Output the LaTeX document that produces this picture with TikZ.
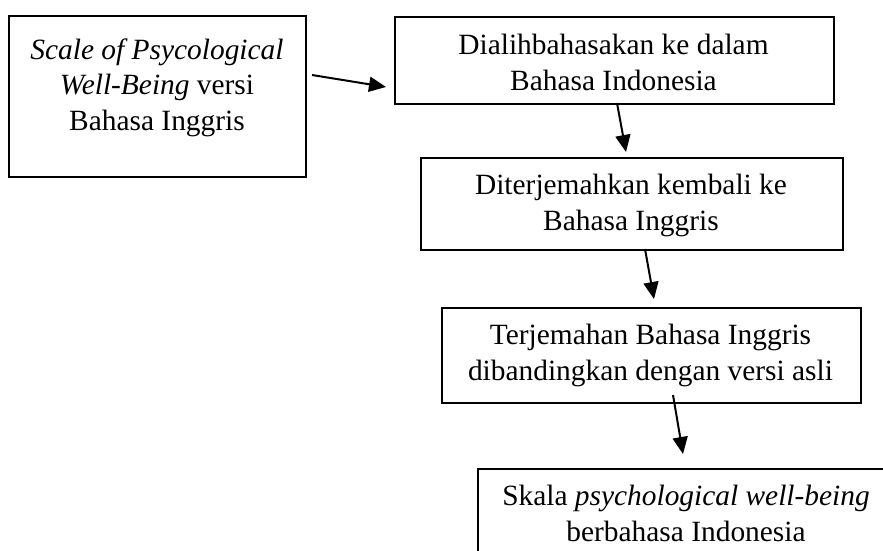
\documentclass[tikz,border=0pt]{standalone}
\usepackage{fontspec}
\setmainfont{Liberation Serif}
\usetikzlibrary{arrows.meta}
\begin{document}
\begin{tikzpicture}[x=1pt,y=-1pt,
  box/.style={draw, line width=2pt, inner sep=0pt, anchor=north west},
  txt/.style={align=center, font=\fontsize{29.4}{35.5}\selectfont, inner sep=0pt},
  arr/.style={line width=2pt, -{Triangle[length=17pt,width=15pt]}}]
\useasboundingbox (0,0) rectangle (883,550);
\clip (0,0) rectangle (883,550);
% boxes
\node[box, minimum width=297, minimum height=161] (b1) at (8,15) {};
\node[box, minimum width=439, minimum height=87] (b2) at (394,16) {};
\node[box, minimum width=422, minimum height=92] (b3) at (420,157) {};
\node[box, minimum width=419, minimum height=95] (b4) at (441,307) {};
\node[box, minimum width=418, minimum height=95] (b5) at (477,468) {};
% texts
\node[txt] (t1) at (157,87.7) {\textit{Scale of Psycological}\\\textit{Well-Being} versi\\Bahasa Inggris};
\node[txt] (t2) at (613.5,62.5) {Dialihbahasakan ke dalam\\Bahasa Indonesia};
\node[txt] (t3) at (631,205.7) {Diterjemahkan kembali ke\\Bahasa Inggris};
\node[txt] (t4) at (650.5,355.7) {Terjemahan Bahasa Inggris\\dibandingkan dengan versi asli};
\node[txt] (t5) at (686,513.5) {Skala \textit{psychological well-being}\\berbahasa Indonesia};
% arrows
\coordinate (a1s) at (312,75);
\coordinate (a1e) at (386,87);
\coordinate (a2s) at (617,103);
\coordinate (a2e) at (626,152);
\coordinate (a3s) at (645,249);
\coordinate (a3e) at (654,299);
\coordinate (a4s) at (673,395);
\coordinate (a4e) at (683,454);
\draw[arr] (a1s) -- (a1e);
\draw[arr] (a2s) -- (a2e);
\draw[arr] (a3s) -- (a3e);
\draw[arr] (a4s) -- (a4e);
\end{tikzpicture}
\end{document}
